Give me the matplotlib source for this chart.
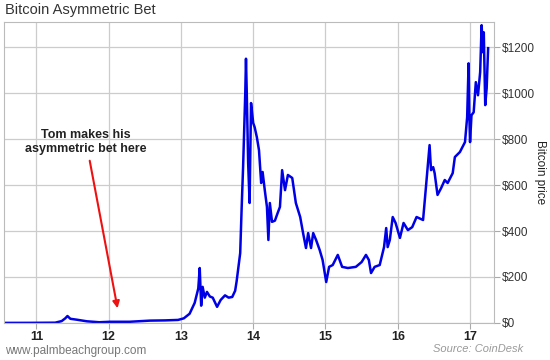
import matplotlib.pyplot as plt

plt.rcParams['font.family'] = ['Liberation Sans', 'DejaVu Sans']

# year (11 = 2011) and bitcoin price in dollars
years = [10.55, 10.91, 11.26, 11.35, 11.40, 11.43, 11.47, 11.56, 11.70, 11.87,
         12.02, 12.29, 12.57, 12.78, 12.96, 13.04, 13.12, 13.19, 13.24, 13.26,
         13.28, 13.30, 13.33, 13.36, 13.40, 13.44, 13.50, 13.55, 13.61, 13.66,
         13.71, 13.75, 13.77, 13.82, 13.84, 13.86, 13.89, 13.90, 13.91, 13.93,
         13.95, 13.97, 14.00, 14.02, 14.05, 14.08, 14.11, 14.13, 14.16, 14.19,
         14.21, 14.23, 14.26, 14.30, 14.34, 14.37, 14.40, 14.44, 14.48, 14.54,
         14.59, 14.65, 14.69, 14.73, 14.76, 14.80, 14.83, 14.87, 14.92, 14.96,
         15.01, 15.05, 15.10, 15.17, 15.23, 15.31, 15.42, 15.50, 15.56, 15.60,
         15.63, 15.68, 15.75, 15.81, 15.84, 15.86, 15.89, 15.93, 15.97, 16.03,
         16.08, 16.14, 16.20, 16.26, 16.35, 16.39, 16.44, 16.46, 16.49, 16.51,
         16.55, 16.60, 16.65, 16.69, 16.76, 16.79, 16.86, 16.93, 16.96, 16.98,
         16.99, 17.00, 17.02, 17.05, 17.08, 17.11, 17.14, 17.16, 17.18, 17.19,
         17.21, 17.23, 17.25]
prices = [0.1, 0.3, 1, 8, 20, 30, 18, 14, 7, 3,
          5, 5, 10, 11, 13, 20, 40, 87, 150, 239,
          75, 157, 110, 135, 115, 110, 70, 100, 120, 110,
          113, 140, 180, 304, 500, 678, 1000, 1150, 1013, 696,
          522, 957, 870, 852, 809, 752, 609, 657, 578, 505,
          361, 522, 440, 445, 480, 505, 665, 578, 644, 631,
          522, 461, 391, 326, 391, 326, 391, 361, 317, 274,
          178, 244, 252, 296, 244, 239, 244, 265, 296, 274,
          217, 244, 252, 330, 413, 330, 361, 461, 435, 370,
          435, 404, 417, 461, 448, 592, 774, 665, 678, 652,
          557, 587, 622, 609, 652, 722, 744, 787, 896, 1130,
          904, 787, 904, 917, 1048, 991, 1092, 1296, 1178, 1265,
          948, 1022, 1196]

xticks = [11, 12, 13, 14, 15, 16, 17]
yticks = [0, 200, 400, 600, 800, 1000, 1200]

fig = plt.figure(figsize=(5.5, 3.6), dpi=100)
ax = fig.add_axes([0.007, 0.103, 0.891, 0.836])

ax.plot(years, prices, color='#0000e6', linewidth=1.8)

ax.set_xlim(10.55, 17.33)
ax.set_ylim(0, 1310)
ax.set_xticks(xticks)
ax.set_xticklabels([str(t) for t in xticks], fontweight='bold', fontsize=9, color='#222222')
ax.set_yticks(yticks)
ax.set_yticklabels(['$%d' % t for t in yticks], fontsize=8.5, color='#333333')
ax.yaxis.tick_right()
ax.yaxis.set_label_position('right')
ax.set_ylabel('Bitcoin price', rotation=270, fontsize=8.5, color='#222222', va='center')
ax.yaxis.set_label_coords(1.094, 0.5)
ax.tick_params(axis='both', length=4, color='#aaaaaa', pad=2)
ax.grid(True, color='#cccccc', linewidth=0.9)
for s in ax.spines.values():
    s.set_color('#bbbbbb')

ax.annotate('Tom makes his\nasymmetric bet here', xy=(12.13, 52), xytext=(11.69, 730),
            ha='center', va='bottom', fontsize=9, fontweight='bold', color='#222222',
            arrowprops=dict(arrowstyle='-|>', color='#ee1111', lw=1.5, mutation_scale=10))

fig.text(0.009, 0.972, 'Bitcoin Asymmetric Bet', fontsize=10.5, color='#333333', va='center')
fig.text(0.009, 0.025, 'www.palmbeachgroup.com', fontsize=8.5, color='#777777', va='center')
fig.text(0.952, 0.030, 'Source: CoinDesk', fontsize=8, color='#999999', style='italic',
         ha='right', va='center')

fig.savefig('out.png', dpi=100)
